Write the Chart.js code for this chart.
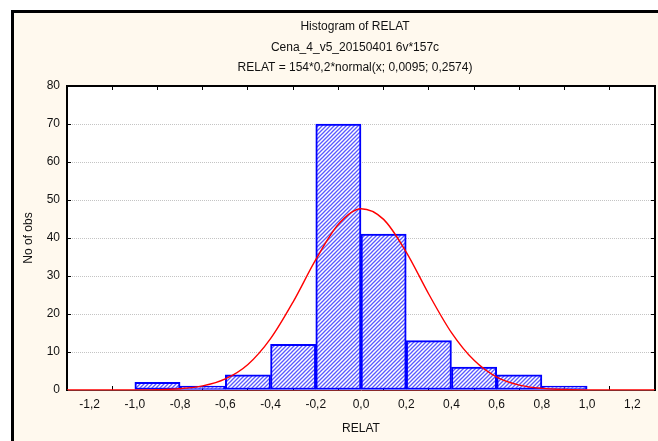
<!DOCTYPE html>
<html>
<head>
<meta charset="utf-8">
<script src="https://cdn.jsdelivr.net/npm/chart.js@4.4.1/dist/chart.umd.min.js"></script>
<style>
  html, body { margin: 0; padding: 0; background: #fff; }
  #frame {
    position: absolute; left: 11px; top: 10px; width: 644px; height: 428px;
    border-left: 3px solid #000; border-top: 3px solid #000; background: #fff9ee;
  }
  #plotBg { position: absolute; left: 67px; top: 86px; width: 588px; height: 304px; background: #fff; }
  #histChart { position: absolute; left: 0; top: 0; }
</style>
</head>
<body>
<div id="frame"></div>
<div id="plotBg"></div>
<canvas id="histChart" width="658" height="441"></canvas>
<script>
const titleLines = [
  'Histogram of RELAT',
  'Cena_4_v5_20150401 6v*157c',
  'RELAT = 154*0,2*normal(x; 0,0095; 0,2574)'
];
const binCenters = [-0.9, -0.7, -0.5, -0.3, -0.1, 0.1, 0.3, 0.5, 0.7, 0.9];
const binCounts = [2, 1, 4, 12, 70, 41, 13, 6, 4, 1];
const xTickValues = [-1.2, -1.0, -0.8, -0.6, -0.4, -0.2, 0.0, 0.2, 0.4, 0.6, 0.8, 1.0, 1.2];
// red fitted curve, every 0.1
const curveX = [-1.3, -1.2, -1.1, -1.0, -0.9, -0.8, -0.7, -0.6, -0.5, -0.4, -0.3, -0.2, -0.1,
  0.0, 0.1, 0.2, 0.3, 0.4, 0.5, 0.6, 0.7, 0.8, 0.9, 1.0, 1.1, 1.2, 1.3];
const curveY = [0, 0, 0, 0.02, 0.09, 0.34, 1.07, 2.9, 6.7, 13.5, 23.2, 34.3, 43.6,
  47.7, 44.9, 36.3, 25.2, 15.1, 7.8, 3.4, 1.3, 0.43, 0.12, 0.03, 0, 0, 0];

function hatch(){
  const c = document.createElement('canvas');
  c.width = 4; c.height = 4;
  const g = c.getContext('2d');
  g.fillStyle = '#ffffff';
  g.fillRect(0, 0, 4, 4);
  g.strokeStyle = '#5a5aff';
  g.lineWidth = 1.3;
  g.beginPath();
  g.moveTo(-1, 5); g.lineTo(5, -1);
  g.moveTo(-1, 1); g.lineTo(1, -1);
  g.moveTo(3, 5); g.lineTo(5, 3);
  g.stroke();
  return g.createPattern(c, 'repeat');
}

const titleText = {
  id: 'titleText',
  afterDraw(chart){
    const a = chart.chartArea, ctx = chart.ctx;
    ctx.save();
    ctx.fillStyle = '#111';
    ctx.font = '12px "Liberation Sans", Arial, sans-serif';
    ctx.textAlign = 'center';
    ctx.textBaseline = 'middle';
    const cx = (a.left + a.right) / 2 - 6;
    ctx.fillText(titleLines[0], cx, 27);
    ctx.fillText(titleLines[1], cx, 48);
    ctx.fillText(titleLines[2], cx, 68);
    ctx.restore();
  }
};

const tickFont = { family: '"Liberation Sans", Arial, sans-serif', size: 12 };
const inwardTicks = { display: true, drawOnChartArea: false, drawTicks: true, tickLength: -4, tickColor: '#000' };
const setXTicks = s => { s.ticks = xTickValues.map(v => ({ value: v })); };

new Chart(document.getElementById('histChart'), {
  type: 'bar',
  data: {
    datasets: [{
      type: 'line',
      label: 'normal',
      data: curveX.map((x, i) => ({ x: x, y: curveY[i] })),
      borderColor: '#ff0000',
      borderWidth: 1.4,
      pointRadius: 0,
      cubicInterpolationMode: 'monotone',
      fill: false,
      order: 0
    }, {
      type: 'bar',
      label: 'RELAT',
      data: binCenters.map((x, i) => ({ x: x, y: binCounts[i] })),
      backgroundColor: hatch(),
      borderColor: '#0000ff',
      borderWidth: 2,
      borderSkipped: false,
      barPercentage: 1,
      categoryPercentage: 1,
      grouped: false,
      order: 1
    }]
  },
  options: {
    responsive: false,
    animation: false,
    layout: { padding: { left: 14, top: 86, right: 3, bottom: 0 } },
    plugins: { legend: { display: false }, tooltip: { enabled: false } },
    scales: {
      x: {
        type: 'linear',
        position: 'bottom',
        offset: false,
        min: -1.3,
        max: 1.3,
        afterBuildTicks: setXTicks,
        afterFit: s => { s.height = 51; },
        grid: inwardTicks,
        border: { display: true, color: '#8a2a2a', width: 1 },
        ticks: {
          color: '#111', font: tickFont, padding: 11, maxRotation: 0, autoSkip: false,
          callback: v => v.toFixed(1).replace('.', ',')
        },
        title: { display: true, text: 'RELAT', color: '#111', font: tickFont, padding: { top: 0, bottom: 5 } }
      },
      xTop: {
        type: 'linear',
        position: 'top',
        offset: false,
        min: -1.3,
        max: 1.3,
        afterBuildTicks: setXTicks,
        afterFit: s => { s.height = 0; },
        grid: inwardTicks,
        border: { display: true, color: '#000', width: 2 },
        ticks: { display: false }
      },
      y: {
        min: 0,
        max: 80,
        afterFit: s => { s.width = 53; },
        grid: {
          drawTicks: true,
          tickLength: -4,
          tickColor: '#000',
          lineWidth: 1,
          color: ctx => {
            if (!ctx.tick || ctx.tick.value === 0 || ctx.tick.value === 80) return 'rgba(0,0,0,0)';
            return '#c4c4c4';
          }
        },
        border: { display: true, color: '#000', width: 2, dash: [1, 1] },
        ticks: { stepSize: 10, color: '#111', font: tickFont, padding: 11 },
        title: { display: true, text: 'No of obs', color: '#111', font: tickFont, padding: { top: 7, bottom: 0 } }
      },
      yRight: {
        position: 'right',
        min: 0,
        max: 80,
        afterFit: s => { s.width = 0; },
        grid: inwardTicks,
        border: { display: true, color: '#000', width: 2 },
        ticks: { display: false, stepSize: 10 }
      }
    }
  },
  plugins: [titleText]
});
</script>
</body>
</html>
